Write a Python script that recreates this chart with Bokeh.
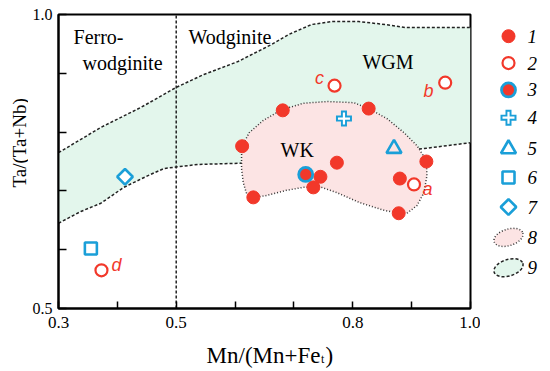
import math
from bokeh.plotting import figure
from bokeh.models import Range1d, FixedTicker, NumeralTickFormatter
from bokeh.layouts import row, column
from bokeh.embed import file_html
from bokeh.resources import INLINE
from bokeh.core.properties import value

RED = "#F2382A"
BLUE = "#1A9FD8"
GREEN = "#E3F6EC"
PINK = "#FCE4E4"
SERIF = "Liberation Serif"
SANS = "Liberation Sans"

# ---------------- data ----------------
# 1: filled red circles
g1_x = [0.612, 0.681, 0.827, 0.773, 0.745, 0.733, 0.631, 0.925, 0.880, 0.878]
g1_y = [0.776, 0.837, 0.840, 0.748, 0.724, 0.706, 0.689, 0.750, 0.721, 0.662]
# 2: open red circles (labelled)
g2_x = [0.904, 0.957, 0.769, 0.373]
g2_y = [0.711, 0.884, 0.879, 0.565]
g2_labels = ["a", "b", "c", "d"]
g2_lab_x = [0.9269, 0.9286, 0.7434, 0.3985]
g2_lab_y = [0.7024, 0.8707, 0.8912, 0.5748]
# 3: red circle with blue ring
g3_x = [0.720]
g3_y = [0.728]
# 4: cross
g4_x = [0.785]
g4_y = [0.823]
# 5: triangle
g5_x = [0.870]
g5_y = [0.772]
# 6: square
g6_x = [0.355]
g6_y = [0.602]
# 7: diamond
g7_x = [0.413]
g7_y = [0.724]

# WGM field (9): upper and lower boundaries
wgm_up_x = [0.300, 0.372, 0.440, 0.500, 0.547, 0.605, 0.662, 0.691, 0.730, 0.764, 0.810, 0.855, 0.889, 0.947, 1.000]
wgm_up_y = [0.765, 0.808, 0.842, 0.876, 0.898, 0.920, 0.949, 0.966, 0.983, 0.988, 0.988, 0.983, 0.978, 0.978, 0.978]
wgm_lo_x = [0.300, 0.338, 0.372, 0.411, 0.452, 0.479, 0.503, 0.537, 0.607, 0.713, 0.815, 0.921, 1.000]
wgm_lo_y = [0.645, 0.665, 0.679, 0.706, 0.726, 0.738, 0.741, 0.745, 0.747, 0.752, 0.762, 0.772, 0.782]

# WK field (8)
wk_x = [0.612, 0.624, 0.648, 0.679, 0.716, 0.756, 0.802, 0.827, 0.858, 0.887, 0.909, 0.925, 0.926,
        0.921, 0.909, 0.892, 0.879, 0.853, 0.812, 0.773, 0.744, 0.716, 0.687, 0.653, 0.631, 0.619,
        0.614, 0.611, 0.611]
wk_y = [0.776, 0.799, 0.820, 0.838, 0.849, 0.852, 0.850, 0.840, 0.823, 0.799, 0.777, 0.752, 0.726,
        0.697, 0.675, 0.662, 0.662, 0.667, 0.680, 0.697, 0.707, 0.706, 0.701, 0.692, 0.689, 0.697,
        0.714, 0.738, 0.760]

# boundary Mn/(Mn+Fe) = 0.5
div_x = [0.5, 0.5]
div_y = [0.5, 1.0]

# field names
field_text = ["Ferro-", "wodginite", "Wodginite", "WGM", "WK"]
field_x = [0.3255, 0.3408, 0.5209, 0.8165, 0.6772]
field_y = [0.9609, 0.9167, 0.9609, 0.9200, 0.7704]

x_ticks = [0.3, 0.5, 0.8, 1.0]
x_minor = [0.4, 0.6, 0.7, 0.9]
y_ticks = [0.5, 1.0]
y_minor = [0.6, 0.7, 0.8, 0.9]

x_title = "Mn/(Mn+Fe"
x_title_sub = "t"
x_title_end = ")"
y_title = "Ta/(Ta+Nb)"

legend_labels = ["1", "2", "3", "4", "5", "6", "7", "8", "9"]
legend_rows = [25, 56, 87, 119, 155, 188, 222, 257, 292]

TOP_H = 339
YLAB_W = 28
MAIN_W = 452
LEG_W = 70

# ---------------- main plot ----------------
p = figure(width=MAIN_W, height=TOP_H, x_range=Range1d(0.3, 1.0), y_range=Range1d(0.5, 1.0),
           output_backend="svg", toolbar_location=None,
           min_border_left=30, min_border_right=10, min_border_top=14, min_border_bottom=31)
p.xgrid.visible = False
p.ygrid.visible = False
p.outline_line_color = "black"
p.outline_line_width = 2
p.outline_line_alpha = 1.0
p.background_fill_color = "white"
p.border_fill_color = "white"

for ax, tk, mn, tl, fs, so in ((p.xaxis[0], x_ticks, x_minor, 7, "17px", 8),
                               (p.yaxis[0], y_ticks, y_minor, 8, "16px", 6)):
    ax.ticker = FixedTicker(ticks=tk, minor_ticks=mn)
    ax.formatter = NumeralTickFormatter(format="0.0")
    ax.axis_line_width = 2
    ax.major_tick_in = tl
    ax.major_tick_out = 0
    ax.minor_tick_in = tl
    ax.minor_tick_out = 0
    ax.major_tick_line_width = 1.5
    ax.minor_tick_line_width = 1.5
    ax.minor_tick_line_color = "black"
    ax.major_label_text_font = SERIF
    ax.major_label_text_font_size = fs
    ax.major_label_text_color = "black"
    ax.major_label_standoff = so

# WGM field
p.patch(wgm_up_x + wgm_lo_x[::-1], wgm_up_y + wgm_lo_y[::-1], fill_color=GREEN, line_color=None)
p.line(wgm_up_x, wgm_up_y, line_color="#222222", line_width=1.5, line_dash="3 2")
p.line(wgm_lo_x, wgm_lo_y, line_color="#222222", line_width=1.5, line_dash="3 2")
p.line(div_x, div_y, line_color="#222222", line_width=1.5, line_dash="3 2")

# WK field
p.patch(wk_x, wk_y, fill_color=PINK, line_color="#333333", line_width=1.5, line_dash="1 2")

# points
p.scatter(g1_x, g1_y, marker="circle", size=13, fill_color=RED, line_color=RED)
p.scatter(g2_x, g2_y, marker="circle", size=12, fill_color="white", line_color=RED, line_width=2.2)
p.scatter(g3_x, g3_y, marker="circle", size=14, fill_color=RED, line_color=BLUE, line_width=2.8)
p.scatter(g4_x, g4_y, marker="cross", size=16, line_color=BLUE, line_width=6)
p.scatter(g4_x, g4_y, marker="cross", size=12, line_color="white", line_width=2.2)
p.scatter(g5_x, g5_y, marker="triangle", size=15, fill_color=None, line_color=BLUE, line_width=2.6)
p.scatter(g6_x, g6_y, marker="square", size=12, fill_color="white", line_color=BLUE, line_width=2.6)
p.scatter(g7_x, g7_y, marker="square", size=11, angle=math.pi / 4, fill_color="white",
          line_color=BLUE, line_width=2.6)

# texts
p.text(field_x, field_y, text=field_text, text_font=value(SERIF), text_font_size="20px",
       text_color="black", text_align="left", text_baseline="alphabetic")
p.text(g2_lab_x, g2_lab_y, text=g2_labels, text_font=value(SANS), text_font_style="italic",
       text_font_size="18px", text_color=RED, text_align="center", text_baseline="middle")


def blank(w, h):
    f = figure(width=w, height=h, x_range=Range1d(0, w), y_range=Range1d(h, 0),
               output_backend="svg", toolbar_location=None, min_border=0,
               x_axis_location=None, y_axis_location=None)
    f.xgrid.visible = False
    f.ygrid.visible = False
    f.outline_line_color = None
    f.border_fill_color = "white"
    f.background_fill_color = "white"
    return f


# ---------------- y title panel ----------------
yl = blank(YLAB_W, TOP_H)
yl.text([18.5], [148], text=[y_title], angle=math.pi / 2, text_font=value(SERIF),
        text_font_size="19px", text_color="black", text_align="center", text_baseline="middle")

# ---------------- legend panel ----------------
lg = blank(LEG_W, TOP_H)
mx = 28
r = legend_rows
lg.scatter([mx], [r[0]], marker="circle", size=13, fill_color=RED, line_color=RED)
lg.scatter([mx], [r[1]], marker="circle", size=12, fill_color="white", line_color=RED, line_width=2.2)
lg.scatter([mx], [r[2]], marker="circle", size=14, fill_color=RED, line_color=BLUE, line_width=2.8)
lg.scatter([mx], [r[3]], marker="cross", size=16, line_color=BLUE, line_width=6)
lg.scatter([mx], [r[3]], marker="cross", size=12, line_color="white", line_width=2.2)
lg.scatter([mx], [r[4]], marker="triangle", size=15, fill_color=None, line_color=BLUE, line_width=2.6)
lg.scatter([mx], [r[5]], marker="square", size=12, fill_color="white", line_color=BLUE, line_width=2.6)
lg.scatter([mx], [r[6]], marker="square", size=11, angle=math.pi / 4, fill_color="white",
           line_color=BLUE, line_width=2.6)
lg.ellipse([mx], [r[7]], width=30, height=19, angle=0.3, fill_color=PINK, line_color="#333333",
           line_width=1.5, line_dash="1 2")
lg.ellipse([mx], [r[8]], width=30, height=19, angle=0.3, fill_color=GREEN, line_color="#222222",
           line_width=1.5, line_dash="3 2")
lg.text([47] * len(legend_labels), r, text=legend_labels, text_font=value(SERIF),
        text_font_style="italic", text_font_size="19px", text_color="black",
        text_align="left", text_baseline="middle")

# ---------------- x title panel ----------------
XL_W = YLAB_W + MAIN_W + LEG_W
XL_H = 32
xl = blank(XL_W, XL_H)
xl.text([320], [16], text=[x_title], text_font=value(SERIF), text_font_size="23px",
        text_color="black", text_align="right", text_baseline="middle")
xl.text([320.5], [19], text=[x_title_sub], text_font=value(SERIF), text_font_size="12px",
        text_color="black", text_align="left", text_baseline="middle")
xl.text([325], [16], text=[x_title_end], text_font=value(SERIF), text_font_size="23px",
        text_color="black", text_align="left", text_baseline="middle")

layout = column(row(yl, p, lg), xl)
open("out.html", "w").write(file_html(layout, INLINE))
